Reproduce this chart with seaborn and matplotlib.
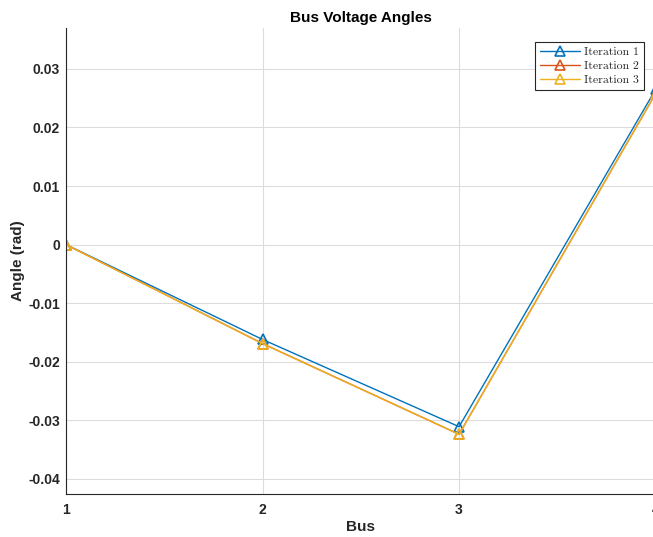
import matplotlib
matplotlib.use("Agg")
import matplotlib.pyplot as plt
import seaborn as sns
import pandas as pd
from matplotlib.ticker import FuncFormatter

buses = [1, 2, 3, 4]
iter1 = [0.0, -0.0162, -0.0311, 0.0265]
iter2 = [0.0, -0.0169, -0.0324, 0.0258]
iter3 = [0.0, -0.0169, -0.0324, 0.0258]
series_names = ["Iteration 1", "Iteration 2", "Iteration 3"]
colors = ["#0072BD", "#D95319", "#EDB120"]

sns.set_style("white")
plt.rcParams["font.family"] = ["Liberation Sans", "DejaVu Sans"]
plt.rcParams["axes.unicode_minus"] = False

rows = []
for name, vals in zip(series_names, [iter1, iter2, iter3]):
    for b, v in zip(buses, vals):
        rows.append({"Bus": b, "Angle": v, "Series": name})
df = pd.DataFrame(rows)

fig = plt.figure(figsize=(6.53, 5.37), dpi=100)
ax = fig.add_axes([0.101, 0.080, 0.903, 0.868])

for name, col in zip(series_names, colors):
    sub = df[df["Series"] == name]
    sns.lineplot(data=sub, x="Bus", y="Angle", ax=ax, color=col, marker="^",
                 markersize=7, markerfacecolor="none", markeredgecolor=col,
                 markeredgewidth=1.2, linewidth=1.0, label=name)

ax.set_xlim(1, 4)
ax.set_ylim(-0.0426, 0.037)
ax.set_xticks([1, 2, 3, 4])
ax.set_yticks([-0.04, -0.03, -0.02, -0.01, 0, 0.01, 0.02, 0.03])
ax.yaxis.set_major_formatter(FuncFormatter(lambda v, p: "0" if abs(v) < 1e-12 else f"{v:.2f}"))
ax.grid(True, color="#dcdcdc", linewidth=0.8)
ax.set_axisbelow(True)

for s in ["top", "right"]:
    ax.spines[s].set_visible(False)
for s in ["left", "bottom"]:
    ax.spines[s].set_color("#262626")
    ax.spines[s].set_linewidth(0.8)

ax.tick_params(axis="both", direction="in", length=4, color="#262626",
               labelsize=10, labelcolor="#262626")
ax.tick_params(axis="x", pad=6.5)
ax.tick_params(axis="y", pad=4.3)
for lbl in ax.get_xticklabels() + ax.get_yticklabels():
    lbl.set_fontweight("bold")

ax.set_xlabel("Bus", fontsize=11, fontweight="bold", color="#262626")
ax.set_ylabel("Angle (rad)", fontsize=11, fontweight="bold", color="#262626")
ax.xaxis.set_label_coords(0.5, -0.056)
ax.yaxis.set_label_coords(-0.069, 0.5)
ax.set_title("Bus Voltage Angles", fontsize=11, fontweight="bold", color="#000000", pad=4)

leg = ax.legend(loc="upper right", bbox_to_anchor=(0.9805, 0.970), frameon=True,
                fancybox=False, edgecolor="#262626", framealpha=1,
                prop={"family": "cmr10", "size": 8.5}, handlelength=3.4,
                borderpad=0.45, labelspacing=0.3, handletextpad=0.3, borderaxespad=0)
leg.get_frame().set_linewidth(0.8)

fig.savefig("out.png", dpi=100)
